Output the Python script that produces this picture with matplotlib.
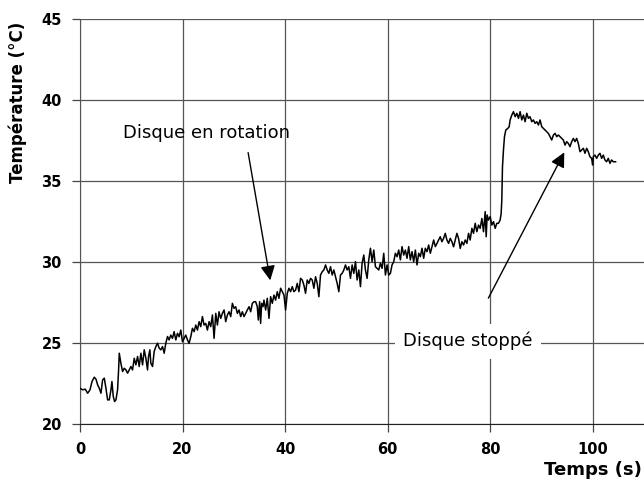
import matplotlib.pyplot as plt

plt.rcParams['font.family'] = ['DejaVu Sans']

# temps (s) et température (°C)
temps = [0, 0.52, 1.04, 1.49, 1.95, 2.34, 2.79, 3.12, 3.44, 3.76, 4.09, 4.41, 4.74, 5.06, 5.39,
         5.71, 6.04, 6.23, 6.49, 6.75, 7.01, 7.33, 7.53, 7.66, 7.98, 8.31, 8.63, 8.96, 9.28, 9.61,
         9.93, 10.25, 10.58, 10.90, 11.23, 11.55, 11.88, 12.20, 12.53, 12.85, 13.17, 13.37, 13.63,
         13.82, 14.15, 14.47, 14.80, 15.12, 15.45, 15.77, 16.10, 16.42, 16.74, 17.07,
         17.39, 17.71, 18.04, 18.36, 18.69, 19.01, 19.34, 19.66, 19.99, 20.31, 20.63, 20.96, 21.28,
         21.61, 21.93, 22.26, 22.58, 22.91, 23.23, 23.55, 23.88, 24.20, 24.53, 24.85, 25.18, 25.50,
         25.83, 26.15, 26.48, 26.80, 27.12, 27.45, 27.77, 28.10, 28.42, 28.75, 29.07, 29.40, 29.72,
         30.05, 30.37, 30.69, 31.02, 31.34, 31.67, 31.99, 32.32, 32.64, 32.97, 33.29, 33.61, 33.94,
         34.26, 34.58, 34.78, 35.04, 35.23, 35.43, 35.69, 35.88, 36.21, 36.53, 36.86, 37.18, 37.51,
         37.83, 38.15, 38.48, 38.80, 39.13, 39.45, 39.78, 40.10, 40.43, 40.75, 41.07, 41.40, 41.72,
         42.05, 42.37, 42.70, 43.02, 43.35, 43.67, 43.99, 44.32, 44.64, 44.97, 45.29, 45.62, 45.94,
         46.27, 46.59, 46.91, 47.24, 47.56, 47.89, 48.21, 48.54, 48.86, 49.19, 49.51, 49.83, 50.16,
         50.48, 50.81, 51.13, 51.46, 51.78, 52.10, 52.43, 52.75, 53.08, 53.40, 53.73, 54.05, 54.38,
         54.70, 55.02, 55.35, 55.67, 56.00, 56.32, 56.65, 56.97, 57.30, 57.62, 57.94, 58.27, 58.59,
         58.92, 59.24, 59.57, 59.89, 60.22, 60.54, 60.86, 61.19, 61.51, 61.84, 62.16, 62.49, 62.81,
         63.14, 63.46, 63.78, 64.11, 64.43, 64.76, 65.08, 65.41, 65.73, 66.06, 66.38, 66.70, 67.03,
         67.35, 67.68, 68.00, 68.33, 68.65, 68.98, 69.30, 69.63, 69.94, 70.26, 70.59, 70.91, 71.24,
         71.56, 71.89, 72.21, 72.54, 72.86, 73.18, 73.51, 73.83, 74.16, 74.48, 74.81, 75.13, 75.46,
         75.78, 76.10, 76.43, 76.75, 77.08, 77.40, 77.73, 78.05, 78.38, 78.70, 79.03, 79.22, 79.41,
         79.67, 80.00, 80.32, 80.65, 80.97, 81.30, 81.62, 81.94, 82.14, 82.27, 82.40, 82.59, 82.79,
         83.05, 83.44, 83.70, 83.89, 84.22, 84.54, 84.87, 85.19, 85.52, 85.84, 86.16, 86.49, 86.81,
         87.14, 87.46, 87.78, 88.11, 88.43, 88.76, 89.08, 89.41, 89.73, 90.06, 90.38, 90.70, 91.03,
         91.35, 91.68, 92.00, 92.33, 92.65, 92.98, 93.30, 93.62, 93.95, 94.27, 94.60, 94.92, 95.25,
         95.57, 95.90, 96.22, 96.54, 96.87, 97.19, 97.52, 97.84, 98.17, 98.49, 98.82, 99.14, 99.46,
         99.79, 99.98, 100.11, 100.44, 100.76, 101.09, 101.41, 101.74, 102.06, 102.38, 102.71,
         103.03, 103.36, 103.68, 104.01, 104.33, 104.46]
temperature = [22.19, 22.09, 22.13, 21.88, 22.09, 22.60, 22.87, 22.75, 22.40, 22.19, 21.88, 22.70,
               22.81, 22.19, 21.47, 21.47, 22.09, 22.60, 21.68, 21.37, 21.47, 22.09, 23.32, 24.35,
               23.73, 23.22, 23.42, 23.32, 23.12, 23.32, 23.53, 23.32, 24.04, 23.63, 24.15, 23.53,
               24.35, 23.63, 24.56, 24.04, 23.32, 24.15, 24.56, 23.73, 23.53, 24.46, 24.76, 24.97,
               24.66, 24.56, 24.76, 24.35, 24.97, 25.38,
               25.17, 25.47, 25.27, 25.68, 25.17, 25.58, 25.37, 25.78, 25.06, 25.27, 25.47, 25.17,
               24.96, 25.37, 25.89, 25.68, 26.09, 25.78, 26.30, 25.99, 26.61, 26.09, 26.19, 25.78,
               26.30, 25.99, 26.71, 25.27, 26.81, 26.09, 26.91, 26.50, 26.81, 27.02, 26.30, 26.71,
               26.91, 26.61, 27.43, 27.12, 27.22, 26.81, 27.02, 26.61, 26.91, 26.61, 26.81, 27.02,
               27.22, 26.91, 27.43, 27.53, 27.53, 27.22, 26.40, 27.53, 26.19, 27.43, 27.22, 27.63,
               27.02, 27.74, 26.50, 27.84, 27.43, 27.94, 27.63, 28.15, 27.74, 28.36, 28.15, 27.94,
               27.02, 28.05, 28.36, 28.15, 28.46, 28.15, 28.25, 28.66, 28.15, 28.97, 28.87, 28.56,
               28.05, 28.87, 28.66, 28.97, 28.87, 28.36, 29.07, 28.66, 27.84, 29.18, 29.38, 29.49,
               29.80, 29.49, 29.28, 29.69, 29.18, 29.49, 29.07, 28.66, 28.15, 29.18, 29.28, 29.49,
               29.80, 29.49, 29.69, 28.97, 29.80, 29.28, 30.00, 28.87, 29.49, 28.46, 29.90, 30.41,
               29.49, 28.97, 30.11, 30.83, 30.00, 30.72, 29.69, 29.59, 29.49, 29.90, 29.59, 30.52,
               29.18, 29.80, 29.18, 29.28, 29.80, 30.00, 30.52, 30.31, 30.72, 30.11, 30.93, 30.41,
               30.72, 30.21, 30.93, 30.11, 30.62, 30.00, 30.72, 29.80, 30.52, 30.31, 30.83, 30.21,
               30.83, 30.62, 31.03, 30.52, 30.93, 31.34, 30.93, 31.13, 31.34, 31.54, 31.23, 31.44,
               31.75, 31.34, 31.13, 31.44, 31.23, 30.92, 31.34, 31.75, 31.44, 30.82, 31.23, 31.03,
               31.34, 31.13, 31.75, 31.34, 32.06, 31.75, 32.37, 31.85, 32.26, 32.06, 32.67, 31.85,
               33.09, 31.54, 32.88, 32.57, 32.78, 32.26, 32.47, 32.06, 32.37, 32.37, 32.57, 32.98,
               33.81, 35.86, 36.89, 37.72, 38.13, 38.23, 38.33, 38.75, 39.05, 39.26, 38.95, 39.16,
               38.85, 39.26, 38.75, 39.05, 38.64, 39.16, 38.85, 38.95, 38.64, 38.75, 38.54, 38.64,
               38.44, 38.75, 38.33, 38.23, 38.13, 38.02, 37.92, 37.72, 37.51, 37.82, 37.92, 37.72,
               37.82, 37.72, 37.61, 37.51, 37.20, 37.41, 37.30, 37.10, 37.41, 37.61, 37.41, 37.61,
               37.30, 36.79, 36.89, 37.00, 36.69, 37.00, 36.79, 36.48, 36.38, 35.97, 36.48, 36.58,
               36.38, 36.58, 36.69, 36.38, 36.58, 36.28, 36.17, 36.38, 36.07, 36.28, 36.17, 36.17,
               36.17]

x_ticks = [0, 20, 40, 60, 80, 100]
y_ticks = [20, 25, 30, 35, 40, 45]

fig = plt.figure(figsize=(6.44, 4.87), dpi=100)
ax = fig.add_axes([0.1242, 0.130, 0.8758, 0.8316])

ax.plot(temps, temperature, color='black', lw=1.1, zorder=3)

ax.set_xlim(0, 110)
ax.set_ylim(20, 45)
ax.set_xticks(x_ticks)
ax.set_yticks(y_ticks)
ax.grid(True, color='#555555', lw=0.9, zorder=1)
ax.set_axisbelow(True)
for side in ['top', 'right']:
    ax.spines[side].set_visible(False)
ax.spines['left'].set_color('#555555')
ax.spines['bottom'].set_color('#222222')
ax.tick_params(direction='out', length=6, width=0.9, color='#444444', pad=7)
for lab in ax.get_xticklabels() + ax.get_yticklabels():
    lab.set_fontweight('bold')
    lab.set_fontsize(10.5)

fig.text(0.997, 0.035, 'Temps (s)', ha='right', va='center', fontsize=13, fontweight='bold')
fig.text(0.028, 0.79, 'Température (°C)', ha='center', va='center', rotation=90,
         fontsize=12, fontweight='bold')

ax.annotate('', xy=(37.2, 28.68), xytext=(32.7, 36.9),
            arrowprops=dict(arrowstyle='-|>', color='black', lw=1, mutation_scale=22), zorder=4)
ax.text(24.7, 37.94, 'Disque en rotation', ha='center', va='center', fontsize=13, zorder=5)

ax.annotate('', xy=(94.7, 36.9), xytext=(79.4, 27.6),
            arrowprops=dict(arrowstyle='-|>', color='black', lw=1, mutation_scale=22), zorder=4)
ax.text(75.7, 25.1, 'Disque stoppé', ha='center', va='center', fontsize=13, zorder=5,
        bbox=dict(facecolor='white', edgecolor='none', pad=6))

fig.savefig('out.png', dpi=100)
